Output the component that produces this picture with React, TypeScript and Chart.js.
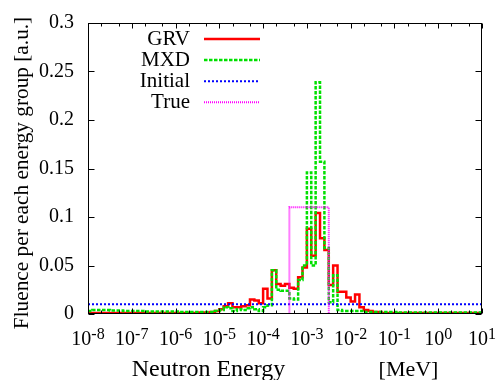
import { useEffect, useRef } from 'react';
import { Chart, registerables } from 'chart.js';

Chart.register(...registerables);

const FONT = '"Liberation Serif", "Times New Roman", serif';

// energy-group lower edges: 10 groups per decade, 1e-8 .. 1e1 MeV (exponents)
const groupEdgeExponents = Array.from({ length: 91 }, (_, k) => -8 + k / 10);

// GRV unfolded spectrum (one value per group, 90 groups)
const grvValues = [
  0.001, 0.001, 0.001, 0.001, 0.001, 0.001, 0.001, 0.001, 0.001, 0.001,
  0.001, 0.001, 0.001, 0.001, 0.001, 0.001, 0.001, 0.001, 0.001, 0.001,
  0.001, 0.001, 0.001, 0.001, 0.001, 0.0015, 0.0015, 0.0015, 0.002, 0.003,
  0.005, 0.008, 0.011, 0.007, 0.007, 0.008, 0.009, 0.015, 0.014, 0.011,
  0.026, 0.016, 0.045, 0.031, 0.029, 0.031, 0.027, 0.026, 0.038, 0.048,
  0.088, 0.060, 0.104, 0.078, 0.066, 0.030, 0.050, 0.023, 0.023, 0.017,
  0.013, 0.020, 0.007, 0.004, 0.003, 0.002, 0.002, 0.001, 0.001, 0.001,
  0.001, 0.001, 0.001, 0.001, 0.001, 0.001, 0.001, 0.001, 0.001, 0.001,
  0.001, 0.001, 0.001, 0.001, 0.001, 0.001, 0.001, 0.001, 0.001, 0.001,
];

// MXD unfolded spectrum
const mxdValues = [
  0.003, 0.004, 0.004, 0.004, 0.004, 0.0035, 0.0035, 0.0035, 0.003, 0.003,
  0.003, 0.003, 0.003, 0.0025, 0.0025, 0.0025, 0.0025, 0.0025, 0.0025, 0.0025,
  0.0025, 0.002, 0.002, 0.002, 0.002, 0.002, 0.002, 0.002, 0.002, 0.003,
  0.004, 0.007, 0.006, 0.003, 0.005, 0.004, 0.006, 0.007, 0.005, 0.003,
  0.007, 0.009, 0.045, 0.025, 0.024, 0.024, 0.016, 0.015, 0.035, 0.050,
  0.146, 0.050, 0.239, 0.157, 0.068, 0.012, 0.040, 0.004, 0.003, 0.003,
  0.003, 0.003, 0.003, 0.002, 0.002, 0.002, 0.002, 0.002, 0.002, 0.002,
  0.002, 0.0015, 0.0015, 0.0015, 0.0015, 0.0015, 0.0015, 0.0015, 0.0015, 0.0015,
  0.0015, 0.0015, 0.0015, 0.0015, 0.0015, 0.0015, 0.0015, 0.0015, 0.0015, 0.0015,
];

// Initial guess spectrum (flat)
const initialEnergies = [1e-8, 10];
const initialValues = [0.01, 0.01];

// True spectrum (box)
const trueEnergies = [1e-8, 3.981e-4, 3.162e-3, 10];
const trueValues = [0, 0.11, 0, 0];

const seriesLabels = ['GRV', 'MXD', 'Initial', 'True'];
const seriesColors = ['#ff0000', '#00e000', '#0000ff', '#ff00ff'];

const xTickExponents = [-8, -7, -6, -5, -4, -3, -2, -1, 0, 1];
const xMinorMultipliers = [2, 5];
const yTickValues = [0, 0.05, 0.1, 0.15, 0.2, 0.25, 0.3];
const yTickLabels = ['0', '0.05', '0.1', '0.15', '0.2', '0.25', '0.3'];

const xTitleMain = 'Neutron Energy';
const xTitleUnit = '[MeV]';
const yTitle = 'Fluence per each energy group [a.u.]';

function histogram(values: number[]) {
  const pts = values.map((v, k) => ({ x: Math.pow(10, groupEdgeExponents[k]), y: v }));
  pts.push({ x: Math.pow(10, groupEdgeExponents[values.length]), y: values[values.length - 1] });
  return pts;
}

const overlayPlugin = {
  id: 'overlay',
  afterDraw(chart: any) {
    const { ctx, chartArea: a, scales } = chart;
    const xs = scales.x;
    const ys = scales.y;
    ctx.save();
    ctx.strokeStyle = '#000';
    ctx.lineWidth = 1;
    const L = Math.round(a.left) + 0.5;
    const R = Math.round(a.right) - 0.5;
    const T = Math.round(a.top) + 0.5;
    const B = Math.round(a.bottom) - 0.5;
    ctx.strokeRect(L, T, R - L, B - T);

    ctx.beginPath();
    for (const n of xTickExponents) {
      const px = Math.round(xs.getPixelForValue(Math.pow(10, n))) + 0.5;
      ctx.moveTo(px, B); ctx.lineTo(px, B - 5);
      ctx.moveTo(px, T); ctx.lineTo(px, T + 5);
      if (n < xTickExponents[xTickExponents.length - 1]) {
        for (const m of xMinorMultipliers) {
          const mx = Math.round(xs.getPixelForValue(m * Math.pow(10, n))) + 0.5;
          ctx.moveTo(mx, B); ctx.lineTo(mx, B - 3);
          ctx.moveTo(mx, T); ctx.lineTo(mx, T + 3);
        }
      }
    }
    for (const v of yTickValues) {
      const py = Math.round(ys.getPixelForValue(v)) + 0.5;
      ctx.moveTo(L, py); ctx.lineTo(L + 6, py);
      ctx.moveTo(R, py); ctx.lineTo(R - 6, py);
    }
    ctx.stroke();

    // x tick labels 10^n
    ctx.fillStyle = '#000';
    ctx.textBaseline = 'alphabetic';
    ctx.textAlign = 'left';
    for (const n of xTickExponents) {
      const px = xs.getPixelForValue(Math.pow(10, n));
      const base = '10';
      const exp = String(n);
      ctx.font = `20px ${FONT}`;
      const w1 = ctx.measureText(base).width;
      ctx.font = `16px ${FONT}`;
      const w2 = ctx.measureText(exp).width;
      const start = px - (w1 + w2) / 2;
      ctx.font = `20px ${FONT}`;
      ctx.fillText(base, start, 345);
      ctx.font = `16px ${FONT}`;
      ctx.fillText(exp, start + w1, 339);
    }

    // x axis title
    ctx.textAlign = 'center';
    ctx.font = `24px ${FONT}`;
    ctx.fillText(xTitleMain, 208.5, 376);
    ctx.font = `22px ${FONT}`;
    ctx.fillText(xTitleUnit, 408.5, 376);

    // y axis title
    ctx.save();
    ctx.translate(22, 173);
    ctx.rotate(-Math.PI / 2);
    ctx.font = `21.3px ${FONT}`;
    ctx.textAlign = 'center';
    ctx.textBaseline = 'middle';
    ctx.fillText(yTitle, 0, 0);
    ctx.restore();

    // legend
    ctx.font = `21px ${FONT}`;
    ctx.textAlign = 'right';
    ctx.textBaseline = 'middle';
    chart.data.datasets.forEach((ds: any, i: number) => {
      const yy = 39 + i * 21.1;
      ctx.fillStyle = '#000';
      ctx.fillText(ds.label, 190, yy);
      ctx.save();
      ctx.strokeStyle = ds.borderColor;
      ctx.lineWidth = ds.borderWidth;
      ctx.setLineDash(ds.borderDash || []);
      ctx.beginPath();
      ctx.moveTo(204, yy);
      ctx.lineTo(260, yy);
      ctx.stroke();
      ctx.restore();
    });
    ctx.restore();
  },
};

export default function App() {
  const ref = useRef<HTMLCanvasElement | null>(null);

  useEffect(() => {
    if (!ref.current) return;
    const chart = new Chart(ref.current, {
      type: 'line',
      data: {
        datasets: [
          {
            label: seriesLabels[0],
            data: histogram(grvValues),
            borderColor: seriesColors[0],
            borderWidth: 2.5,
            stepped: true,
            pointRadius: 0,
            fill: false,
            order: 4,
          },
          {
            label: seriesLabels[1],
            data: histogram(mxdValues),
            borderColor: seriesColors[1],
            borderWidth: 2.5,
            borderDash: [3.5, 1.5],
            stepped: true,
            pointRadius: 0,
            fill: false,
            order: 3,
          },
          {
            label: seriesLabels[2],
            data: initialEnergies.map((e, i) => ({ x: e, y: initialValues[i] })),
            borderColor: seriesColors[2],
            borderWidth: 2,
            borderDash: [2, 2],
            stepped: true,
            pointRadius: 0,
            fill: false,
            order: 2,
          },
          {
            label: seriesLabels[3],
            data: trueEnergies.map((e, i) => ({ x: e, y: trueValues[i] })),
            borderColor: seriesColors[3],
            borderWidth: 2,
            borderDash: [1, 1],
            stepped: true,
            pointRadius: 0,
            fill: false,
            order: 1,
          },
        ],
      },
      options: {
        animation: false,
        responsive: false,
        devicePixelRatio: 1,
        layout: { padding: { top: 23, right: 18, left: 0, bottom: 0 } },
        plugins: { legend: { display: false }, tooltip: { enabled: false } },
        scales: {
          x: {
            type: 'logarithmic',
            min: 1e-8,
            max: 10,
            afterFit: (s: any) => { s.height = 66; },
            ticks: { display: false },
            grid: { display: false },
            border: { display: false },
          },
          y: {
            min: 0,
            max: 0.3,
            afterFit: (s: any) => { s.width = 88; },
            grid: { display: false },
            border: { display: false },
            afterBuildTicks: (s: any) => { s.ticks = yTickValues.map((v) => ({ value: v })); },
            ticks: {
              font: { family: FONT, size: 20 },
              color: '#000',
              padding: 6,
              autoSkip: false,
              callback: (v: any) => {
                const i = yTickValues.findIndex((t) => Math.abs(t - Number(v)) < 1e-9);
                return i >= 0 ? yTickLabels[i] : '';
              },
            },
          },
        },
      },
      plugins: [overlayPlugin],
    } as any);
    return () => chart.destroy();
  }, []);

  return (
    <div style={{ position: 'absolute', left: 0, top: 0, width: 500, height: 380, background: '#fff' }}>
      <canvas ref={ref} width={500} height={380} style={{ display: 'block' }} />
    </div>
  );
}
